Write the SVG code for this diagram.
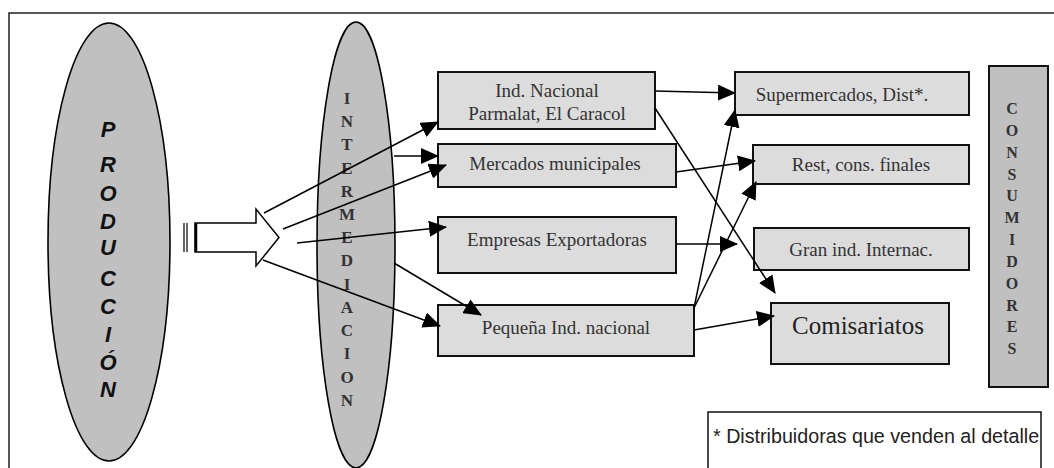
<svg xmlns="http://www.w3.org/2000/svg" width="1054" height="468" viewBox="0 0 1054 468">
<style>
.frame{fill:none;stroke:#222;stroke-width:1.5}
.ell{fill:#c0c0c0;stroke:#000;stroke-width:1.6}
.box{fill:#dcdcdc;stroke:#111;stroke-width:2}
.cbox{fill:#c0c0c0;stroke:#111;stroke-width:2}
.lbl{font-family:"Liberation Serif",serif;font-size:19px;fill:#333;text-anchor:middle}
.big{font-family:"Liberation Serif",serif;font-size:25px;fill:#222;text-anchor:middle}
.vs{font-family:"Liberation Serif",serif;font-size:17px;font-weight:bold;fill:#333;text-anchor:middle}
.vc{font-family:"Liberation Serif",serif;font-size:16px;font-weight:bold;fill:#333;text-anchor:middle}
.vp{font-family:"Liberation Sans",Arial,sans-serif;font-size:22px;font-weight:bold;font-style:italic;fill:#111;text-anchor:middle}
.note{font-family:"Liberation Sans",Arial,sans-serif;font-size:19.7px;fill:#222}
.conn line{stroke:#000;stroke-width:1.5;marker-end:url(#ah)}
</style>
<defs>
<marker id="ah" viewBox="0 0 18 16" refX="17" refY="8" markerWidth="18" markerHeight="16" markerUnits="userSpaceOnUse" orient="auto">
<path d="M0,0 L18,8 L0,16 Z" fill="#000"/>
</marker>
</defs>
<rect width="1054" height="468" fill="#fff"/>
<path class="frame" d="M9,470 V13 H1054"/>

<g id="produccion">
<ellipse class="ell" cx="109" cy="242" rx="61" ry="219"/>
<text class="vp" x="108" y="137">P</text>
<text class="vp" x="108" y="172">R</text>
<text class="vp" x="108" y="201">O</text>
<text class="vp" x="108" y="229">D</text>
<text class="vp" x="108" y="255">U</text>
<text class="vp" x="108" y="286">C</text>
<text class="vp" x="108" y="314">C</text>
<text class="vp" x="108" y="342">I</text>
<text class="vp" x="108" y="370">Ó</text>
<text class="vp" x="108" y="397">N</text>
</g>

<g id="flecha">
<path d="M195,223 H256 V209 L279,237.5 L256,266 V252 H195 Z" fill="#fff" stroke="#000" stroke-width="1.5"/>
<line x1="184" y1="223" x2="184" y2="252" stroke="#000" stroke-width="1.2"/>
<line x1="187" y1="223" x2="187" y2="252" stroke="#000" stroke-width="1.2"/>
<line x1="196" y1="223" x2="196" y2="252" stroke="#000" stroke-width="2.5"/>
</g>

<g id="intermediacion">
<ellipse class="ell" cx="356" cy="245" rx="39" ry="223"/>
<text class="vs" x="347" y="104">I</text>
<text class="vs" x="347" y="127">N</text>
<text class="vs" x="347" y="150">T</text>
<text class="vs" x="347" y="174">E</text>
<text class="vs" x="347" y="197">R</text>
<text class="vs" x="347" y="220">M</text>
<text class="vs" x="347" y="243">E</text>
<text class="vs" x="347" y="266">D</text>
<text class="vs" x="347" y="290">I</text>
<text class="vs" x="347" y="313">A</text>
<text class="vs" x="347" y="336">C</text>
<text class="vs" x="347" y="359">I</text>
<text class="vs" x="347" y="383">O</text>
<text class="vs" x="347" y="406">N</text>
</g>

<g id="ind-nacional">
<rect class="box" x="438" y="72" width="217" height="57"/>
<text class="lbl" x="547" y="97">Ind. Nacional</text>
<text class="lbl" x="547" y="120">Parmalat, El Caracol</text>
</g>
<g id="mercados">
<rect class="box" x="438" y="144" width="238" height="43"/>
<text class="lbl" x="555" y="170">Mercados municipales</text>
</g>
<g id="empresas">
<rect class="box" x="438" y="217" width="238" height="56"/>
<text class="lbl" x="557" y="246">Empresas Exportadoras</text>
</g>
<g id="pequena">
<rect class="box" x="438" y="305" width="256" height="51"/>
<text class="lbl" x="566" y="334">Pequeña Ind. nacional</text>
</g>

<g id="supermercados">
<rect class="box" x="735" y="72" width="234" height="43"/>
<text class="lbl" x="842" y="101">Supermercados, Dist*.</text>
</g>
<g id="rest">
<rect class="box" x="753" y="145" width="216" height="39"/>
<text class="lbl" x="861" y="171">Rest, cons. finales</text>
</g>
<g id="gran-ind">
<rect class="box" x="754" y="228" width="215" height="42"/>
<text class="lbl" x="861" y="256">Gran ind. Internac.</text>
</g>
<g id="comisariatos">
<rect class="box" x="771" y="303" width="178" height="61"/>
<text class="big" x="858" y="334">Comisariatos</text>
</g>

<g id="consumidores">
<rect class="cbox" x="989" y="66" width="59" height="321"/>
<text class="vc" x="1012" y="114">C</text>
<text class="vc" x="1012" y="136">O</text>
<text class="vc" x="1012" y="158">N</text>
<text class="vc" x="1012" y="180">S</text>
<text class="vc" x="1012" y="201">U</text>
<text class="vc" x="1012" y="223">M</text>
<text class="vc" x="1012" y="245">I</text>
<text class="vc" x="1012" y="267">D</text>
<text class="vc" x="1012" y="289">O</text>
<text class="vc" x="1012" y="311">R</text>
<text class="vc" x="1012" y="332">E</text>
<text class="vc" x="1012" y="354">S</text>
</g>

<g id="nota">
<rect x="708" y="412" width="333" height="70" fill="#fff" stroke="#111" stroke-width="1.5"/>
<text class="note" x="713" y="443">* Distribuidoras que venden al detalle</text>
</g>

<g id="conectores" class="conn">
<line x1="264" y1="213" x2="438" y2="122"/>
<line x1="283" y1="229" x2="446" y2="165"/>
<line x1="394" y1="156" x2="438" y2="156"/>
<line x1="297" y1="243" x2="446" y2="227"/>
<line x1="263" y1="260" x2="440" y2="326"/>
<line x1="394" y1="263" x2="481" y2="315"/>
<line x1="655" y1="91" x2="735" y2="93"/>
<line x1="655" y1="108" x2="775" y2="293"/>
<line x1="676" y1="172" x2="755" y2="161"/>
<line x1="694" y1="308" x2="735" y2="110"/>
<line x1="694" y1="308" x2="756" y2="182"/>
<line x1="676" y1="244" x2="737" y2="244"/>
<line x1="694" y1="330" x2="774" y2="316"/>
</g>
</svg>
